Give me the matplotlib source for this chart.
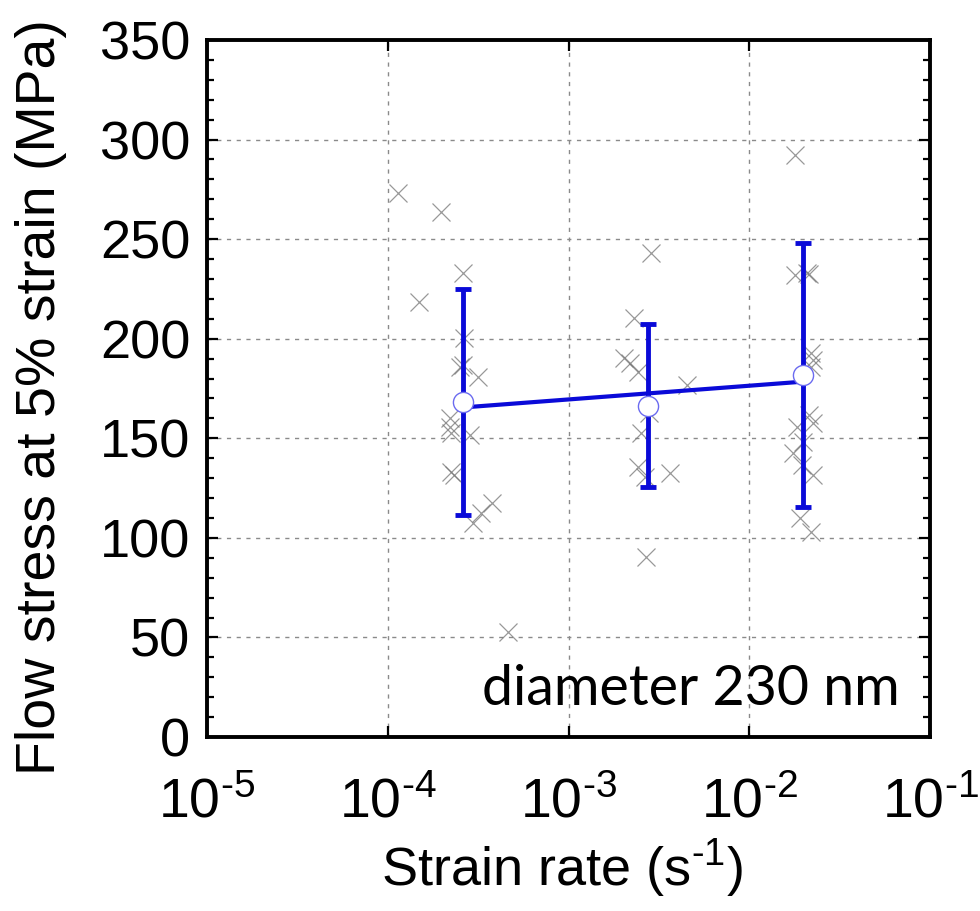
import numpy as np
import matplotlib
matplotlib.use("Agg")
import matplotlib.pyplot as plt
from matplotlib.ticker import MultipleLocator, NullLocator

plt.rcParams['font.family'] = ['Liberation Sans', 'DejaVu Sans']
plt.rcParams['mathtext.fontset'] = 'custom'
plt.rcParams['mathtext.rm'] = 'Liberation Sans'
plt.rcParams['mathtext.it'] = 'Liberation Sans:italic'
plt.rcParams['mathtext.bf'] = 'Liberation Sans:bold'

HY = "\u2010"  # hyphen used in exponents

# ---- data ----
g1_rate = [1.14e-4, 1.97e-4, 2.60e-4, 1.48e-4, 2.65e-4, 2.51e-4, 2.62e-4, 3.17e-4,
           2.21e-4, 2.21e-4, 2.25e-4, 2.85e-4, 2.25e-4, 2.32e-4, 3.76e-4, 3.30e-4,
           2.97e-4, 4.64e-4]
g1_stress = [273, 263.5, 233, 218.5, 200.2, 186, 186.8, 181,
             160, 155.8, 152.5, 151.6, 133.2, 131.6, 117.3, 112.3,
             107.3, 52.9]

g2_rate = [2.86e-3, 2.29e-3, 2.04e-3, 2.20e-3, 2.43e-3, 4.54e-3, 2.80e-3, 2.51e-3,
           2.43e-3, 2.65e-3, 3.65e-3, 2.67e-3]
g2_stress = [242.9, 210.3, 190.2, 187.7, 183.5, 176.8, 162.5, 152.5,
             135.7, 130.7, 132.4, 90.5]

g3_rate = [1.79e-2, 1.79e-2, 2.09e-2, 2.14e-2, 2.20e-2, 2.25e-2, 2.20e-2, 2.14e-2,
           2.25e-2, 1.83e-2, 1.99e-2, 1.74e-2, 1.95e-2, 2.25e-2, 1.92e-2, 2.20e-2]
g3_stress = [292.3, 232.1, 232.8, 232.5, 192.7, 189.3, 186, 161.7,
             157.5, 155.8, 148.3, 142.5, 136.6, 131.6, 109.8, 103.1]

mean_rate = [2.62e-4, 2.77e-3, 1.99e-2]
mean_stress = [168.3, 166.4, 181.8]
std_stress = [56.8, 40.8, 66.2]

label_text = "diameter 230 nm"
xtick_vals = [1e-5, 1e-4, 1e-3, 1e-2, 1e-1]
xtick_exps = ["5", "4", "3", "2", "1"]
xtick_labels = ["$10^{" + HY + e + "}$" for e in xtick_exps]

# ---- figure ----
fig = plt.figure(figsize=(9.8, 9.11), dpi=100)
ax = fig.add_axes([207/980, 1-737/911, (930-207)/980, (737-40)/911])

blue = '#0a0ad8'

ax.set_xscale('log')
ax.set_xlim(1e-5, 1e-1)
ax.set_ylim(0, 350)

ax.grid(True, which='major', color='#8a8a8a', linestyle=(0, (3, 4)), linewidth=1.0)
ax.set_axisbelow(True)

all_rate = g1_rate + g2_rate + g3_rate
all_stress = g1_stress + g2_stress + g3_stress
ax.plot(all_rate, all_stress, linestyle='none', marker='x', markersize=12.5,
        markeredgewidth=0.9, color='#777777', alpha=0.75, zorder=3)

# linear fit in log10(rate)
lx = np.log10(mean_rate)
b, a = np.polyfit(lx, mean_stress, 1)
fx = np.array([lx[0], lx[-1]])
ax.plot(10**fx, a + b*fx, color=blue, linewidth=3.0, zorder=4, solid_capstyle='butt')

ax.errorbar(mean_rate, mean_stress, yerr=std_stress, fmt='none', ecolor=blue,
            elinewidth=3.5, capsize=5.5, capthick=3.5, zorder=5)
ax.plot(mean_rate, mean_stress, linestyle='none', marker='o', markersize=14.5,
        markerfacecolor='white', markeredgecolor='#6b6bf0', markeredgewidth=1.0, zorder=6)

# ticks
ax.set_xticks(xtick_vals)
ax.set_xticklabels(xtick_labels)
ax.xaxis.set_minor_locator(NullLocator())
ax.yaxis.set_major_locator(MultipleLocator(50))
ax.yaxis.set_minor_locator(MultipleLocator(10))
ax.tick_params(which='both', direction='in', top=True, right=True, width=1.6)
ax.tick_params(which='major', length=8)
ax.tick_params(which='minor', length=5)
ax.tick_params(axis='y', which='major', labelsize=39, pad=12)
ax.tick_params(axis='x', which='major', labelsize=40, pad=29)

for s in ax.spines.values():
    s.set_linewidth(2.8)

fig.text(562/980, 1-886/911, "Strain rate (s$^{" + HY + "1}$)", fontsize=39,
         ha='center', va='baseline')
fig.text(41/980, 1-397/911, "Flow stress at 5% strain (MPa)", fontsize=40,
         rotation=90, ha='center', va='center')

ax.text(0.958, 0.046, label_text, transform=ax.transAxes, ha='right', va='baseline',
        fontsize=40, family=['Lato', 'DejaVu Sans'])

fig.savefig('out.png', dpi=100)
